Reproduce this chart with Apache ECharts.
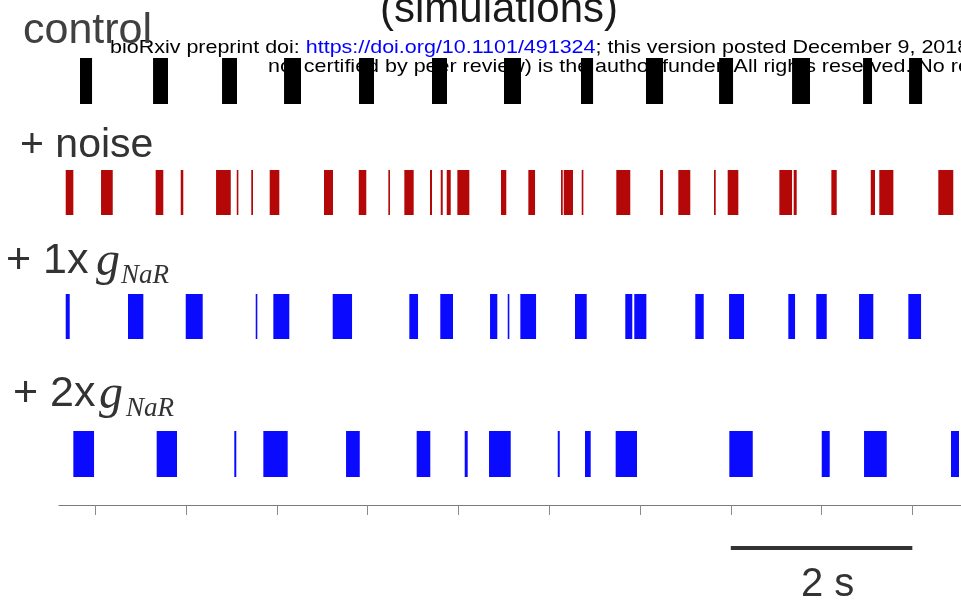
<!DOCTYPE html>
<html>
<head>
<meta charset="utf-8">
<script src="https://cdn.jsdelivr.net/npm/echarts@6/dist/echarts.min.js"></script>
<style>
  html, body { margin: 0; padding: 0; background: #fff; }
  #chart { width: 961px; height: 601px; }
</style>
</head>
<body>
<div id="chart"></div>
<script>
// Burst onset / offset times in seconds, one array per condition
const controlBursts = [
  [0.831, 0.964], [1.636, 1.801], [2.396, 2.561], [3.079, 3.266], [3.905, 4.070],
  [4.709, 4.874], [5.502, 5.689], [6.350, 6.483], [7.066, 7.254], [7.871, 8.025],
  [8.675, 8.873], [9.457, 9.556], [9.964, 10.107]
];
const noiseBursts = [
  [0.674, 0.758], [1.063, 1.192], [1.665, 1.749], [1.941, 1.969], [2.330, 2.492],
  [2.558, 2.575], [2.718, 2.737], [2.921, 3.027], [3.519, 3.618], [3.902, 3.985],
  [4.228, 4.246], [4.404, 4.507], [4.687, 4.709], [4.805, 4.827], [4.871, 4.915],
  [4.988, 5.120], [5.469, 5.527], [5.770, 5.844], [6.130, 6.149], [6.160, 6.262],
  [6.358, 6.376], [6.739, 6.893], [7.221, 7.254], [7.422, 7.554], [7.815, 7.834],
  [7.966, 8.083], [8.535, 8.675], [8.693, 8.726], [9.108, 9.167], [9.542, 9.589],
  [9.636, 9.791], [10.286, 10.451]
];
const nar1xBursts = [
  [0.674, 0.718], [1.360, 1.529], [1.996, 2.183], [2.767, 2.781], [2.961, 3.137],
  [3.615, 3.828], [4.459, 4.555], [4.800, 4.940], [5.348, 5.428], [5.543, 5.557],
  [5.682, 5.855], [6.284, 6.413], [6.838, 6.915], [6.937, 7.070], [7.609, 7.702],
  [7.981, 8.146], [8.634, 8.708], [8.942, 9.057], [9.413, 9.570], [9.956, 10.096]
];
const nar2xBursts = [
  [0.758, 0.986], [1.676, 1.900], [2.531, 2.553], [2.851, 3.119], [3.762, 3.913],
  [4.540, 4.690], [5.069, 5.102], [5.337, 5.576], [6.094, 6.116], [6.394, 6.457],
  [6.732, 6.967], [7.984, 8.242], [9.002, 9.090], [9.468, 9.718], [10.426, 10.514]
];
const tickSeconds = [1, 2, 3, 4, 5, 6, 7, 8, 9, 10];
const scaleBarSpan = [[8, 10]];   // 2 s
const scaleBarLabel = '2 s';

const T_MIN = 0.6;
const T_MAX = 10.536;

const rows = [
  { data: controlBursts, color: '#000000', top: 58,  height: 46 },
  { data: noiseBursts,   color: '#b40808', top: 170, height: 45 },
  { data: nar1xBursts,   color: '#0a0aff', top: 294, height: 45 },
  { data: nar2xBursts,   color: '#0a0aff', top: 431, height: 46 }
];

const SANS = '"Liberation Sans", Arial, sans-serif';
const SERIF = '"Liberation Serif", "Times New Roman", serif';

const chart = echarts.init(document.getElementById('chart'), null, { renderer: 'canvas' });

const AXIS_GRID = rows.length;       // time axis strip
const SCALE_GRID = rows.length + 1;  // scale bar strip

const grid = rows.map(r => ({ left: 59, right: 0, top: r.top, height: r.height }));
grid.push({ left: 59, right: 0, top: 485, height: 20 });
grid.push({ left: 59, right: 0, top: 540, height: 16 });

const xAxis = grid.map((g, i) => {
  const shown = i === AXIS_GRID;
  return {
    type: 'value', gridIndex: i, min: T_MIN, max: T_MAX,
    show: shown, position: 'bottom',
    axisLine: { show: shown, onZero: false, lineStyle: { color: '#7a7a7a', width: 1 } },
    axisTick: { show: shown, customValues: tickSeconds, length: 10, lineStyle: { color: '#8a8a8a', width: 1 } },
    axisLabel: { show: false },
    splitLine: { show: false }
  };
});
const yAxis = grid.map((g, i) => ({ type: 'value', gridIndex: i, min: 0, max: 1, show: false }));

function burstRenderer(color) {
  return function (params, api) {
    const p0 = api.coord([api.value(0), 1]);
    const p1 = api.coord([api.value(1), 0]);
    const w = Math.max(p1[0] - p0[0], 1.6);
    return {
      type: 'rect',
      shape: { x: p0[0], y: p0[1], width: w, height: p1[1] - p0[1] },
      style: { fill: color }
    };
  };
}

const series = rows.map((r, i) => ({
  type: 'custom', xAxisIndex: i, yAxisIndex: i, z: 10, silent: true,
  encode: { x: [0, 1] },
  renderItem: burstRenderer(r.color),
  data: r.data
}));

series.push({
  type: 'custom', xAxisIndex: SCALE_GRID, yAxisIndex: SCALE_GRID, z: 10, silent: true,
  encode: { x: [0, 1] },
  data: scaleBarSpan,
  renderItem: function (params, api) {
    const a = api.coord([api.value(0), 0.5]);
    const b = api.coord([api.value(1), 0.5]);
    return {
      type: 'group',
      children: [
        { type: 'rect', shape: { x: a[0], y: a[1] - 2, width: b[0] - a[0], height: 4 }, style: { fill: '#333333' } },
        { type: 'text', x: (a[0] + b[0]) / 2 + 6, y: a[1] + 37,
          style: { text: scaleBarLabel, font: '40px ' + SANS, fill: '#333333', align: 'center', verticalAlign: 'middle' } }
      ]
    };
  }
});

function label(x, y, text, font, fill, align) {
  return {
    type: 'text', x: x, y: y, z: 1,
    style: { text: text, font: font, fill: fill, align: align || 'left', verticalAlign: 'middle' }
  };
}

const graphic = [
  // preprint banner, drawn beneath the spike rasters
  {
    type: 'text', x: 110, y: 48, scaleX: 1.155, z: 0,
    style: {
      text: '{k|bioRxiv preprint doi: }{l|https://doi.org/10.1101/491324}{k|; this version posted December 9, 2018. The copyright holder for this preprint (which was}',
      verticalAlign: 'middle',
      rich: {
        k: { font: '18.6px ' + SANS, fill: '#000000' },
        l: { font: '18.6px ' + SANS, fill: '#0000ff' }
      }
    }
  },
  {
    type: 'text', x: 268, y: 67, scaleX: 1.155, z: 0,
    style: {
      text: 'not certified by peer review) is the author/funder. All rights reserved. No reuse allowed without permission.',
      font: '18.6px ' + SANS, fill: '#000000', verticalAlign: 'middle'
    }
  },
  // panel title and row labels
  label(499, 10, '(simulations)', '42px ' + SANS, '#1a1a1a', 'center'),
  label(23, 31, 'control', '43px ' + SANS, '#404040'),
  label(20, 146, '+ noise', '41px ' + SANS, '#333333'),
  label(6, 261, '+ 1x', '43px ' + SANS, '#333333'),
  label(96, 262, 'g', 'italic 48px ' + SERIF, '#333333'),
  label(121, 276, 'NaR', 'italic 27px ' + SERIF, '#333333'),
  label(13, 394, '+ 2x', '43px ' + SANS, '#333333'),
  label(99, 395, 'g', 'italic 48px ' + SERIF, '#333333'),
  label(126, 409, 'NaR', 'italic 27px ' + SERIF, '#333333')
];

chart.setOption({
  animation: false,
  backgroundColor: '#ffffff',
  grid: grid,
  xAxis: xAxis,
  yAxis: yAxis,
  series: series,
  graphic: graphic
});
</script>
</body>
</html>
